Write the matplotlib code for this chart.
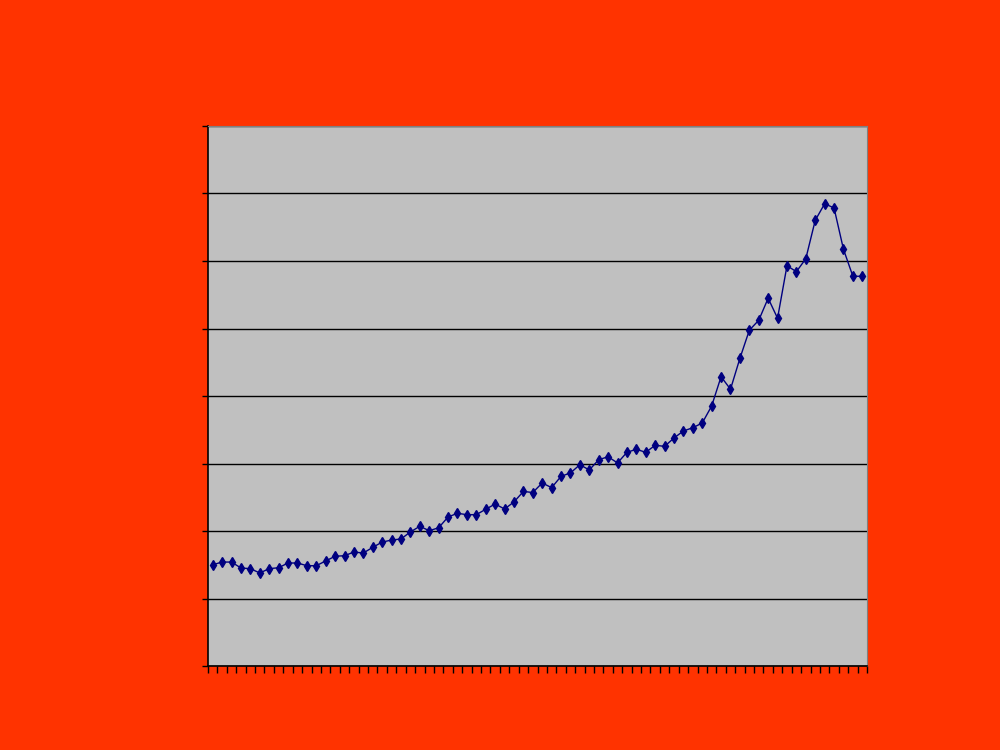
import numpy as np
import matplotlib
matplotlib.use("Agg")
import matplotlib.pyplot as plt

# Data (axis units unknown, 0-400 scale)
categories = list(range(1, 71))
values = [75.0, 77.0, 77.0, 72.6, 72.1, 68.9, 72.1, 72.8, 76.3, 76.3,
          74.3, 74.3, 77.8, 81.3, 81.7, 84.4, 83.7, 87.9, 91.8, 93.3,
          94.1, 99.3, 103.5, 100.2, 102.4, 110.4, 113.1, 112.1, 112.1, 116.1,
          120.0, 116.3, 121.5, 129.3, 128.5, 135.6, 132.1, 140.5, 143.0, 149.1,
          145.2, 152.8, 155.0, 150.4, 158.3, 160.5, 158.3, 163.5, 162.7, 168.9,
          174.1, 176.5, 180.0, 192.6, 214.3, 205.0, 227.9, 248.7, 256.1, 272.4,
          257.6, 296.5, 292.1, 301.7, 330.1, 342.4, 339.3, 308.7, 288.7, 288.7]
y_ticks = [0, 50, 100, 150, 200, 250, 300, 350, 400]

bg = "#FF3300"
fig = plt.figure(figsize=(10, 7.5), dpi=100, facecolor=bg)
ax = fig.add_axes([0.208, 0.112, 0.659, 0.72])
ax.set_facecolor("#C0C0C0")

x = np.arange(len(categories))
ax.plot(x, values, color="#000080", lw=1.0, marker="d", markersize=5.5,
        markerfacecolor="#000080", markeredgecolor="#000080", zorder=3)

ax.set_xlim(-0.5, len(categories) - 0.5)
ax.set_ylim(y_ticks[0], y_ticks[-1])
ax.set_yticks(y_ticks)
ax.set_xticks(np.arange(-0.5, len(categories)))
ax.set_xticklabels([])
ax.set_yticklabels([])
ax.yaxis.grid(True, color="black", lw=1.0)
ax.set_axisbelow(True)
ax.tick_params(axis="x", direction="out", length=5, width=1, color="black")
ax.tick_params(axis="y", direction="out", length=4, width=1, color="black")

ax.spines["left"].set_color("black")
ax.spines["bottom"].set_color("black")
ax.spines["left"].set_linewidth(1.2)
ax.spines["bottom"].set_linewidth(1.2)
ax.spines["top"].set_color("#808080")
ax.spines["right"].set_color("#808080")

fig.savefig("out.png", dpi=100, facecolor=bg)
